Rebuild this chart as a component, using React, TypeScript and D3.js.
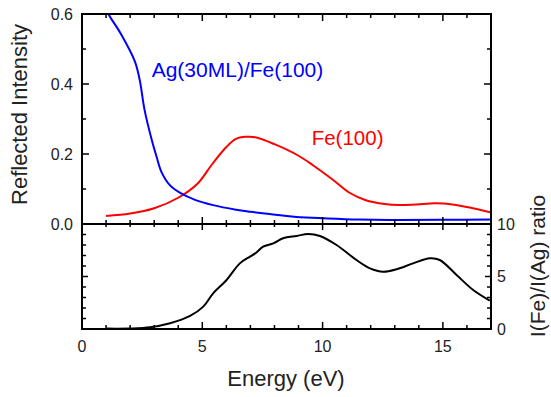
import React from "react";
import * as d3 from "d3";

// Energy (eV) and reflected intensity for Ag(30ML)/Fe(100)
const agEnergy = [1.0, 1.1, 1.6, 2.2, 2.4, 2.6, 2.9, 3.1, 3.3, 3.65, 4.1, 4.7, 5.45, 6.4, 7.0, 7.7, 8.9, 10.2, 11.5, 13.2, 15.0, 17.0];
const agValues = [0.62, 0.6, 0.545, 0.464, 0.411, 0.326, 0.24, 0.192, 0.149, 0.111, 0.088, 0.069, 0.054, 0.041, 0.035, 0.029, 0.02, 0.016, 0.013, 0.0114, 0.012, 0.013];

// Fe(100) reflected intensity
const feEnergy = [1.0, 2.0, 3.0, 4.0, 4.8, 5.4, 6.0, 6.4, 6.8, 7.2, 8.0, 9.0, 9.6, 10.4, 11.1, 11.8, 12.5, 13.2, 13.9, 14.7, 15.4, 16.2, 17.0];
const feValues = [0.023, 0.03, 0.045, 0.075, 0.115, 0.17, 0.22, 0.243, 0.249, 0.248, 0.228, 0.195, 0.168, 0.128, 0.09, 0.068, 0.058, 0.054, 0.056, 0.059, 0.056, 0.046, 0.033];

// Ratio I(Fe)/I(Ag)
const ratioEnergy = [1.0, 2.0, 2.83, 3.66, 4.49, 5.04, 5.45, 6.01, 6.56, 6.98, 7.2, 7.53, 7.95, 8.36, 8.92, 9.4, 9.89, 10.58, 11.41, 11.97, 12.52, 13.07, 13.76, 14.46, 14.87, 15.57, 16.26, 16.95];
const ratioValues = [0.04, 0.05, 0.16, 0.54, 1.24, 2.13, 3.4, 4.67, 6.25, 6.89, 7.2, 7.84, 8.16, 8.64, 8.86, 9.05, 8.86, 8.0, 6.57, 5.78, 5.46, 5.69, 6.25, 6.73, 6.57, 5.14, 3.71, 2.7];

const xTickLabels = [0, 5, 10, 15];
const topTickLabels = [0.0, 0.2, 0.4, 0.6];
const ratioTickLabels = [0, 5, 10];

const FONT = "'Liberation Sans', Arial, Helvetica, sans-serif";

export default function App() {
  const L = 82, R = 491, T = 14, M = 224, B = 329;
  const x = d3.scaleLinear().domain([0, 17]).range([L, R]);
  const yTop = d3.scaleLinear().domain([0, 0.6]).range([M, T]);
  const yBot = d3.scaleLinear().domain([0, 10]).range([B, M]);

  const mk = (xs: number[], ys: number[]) => xs.map((e, i) => [e, ys[i]] as [number, number]);
  const lineTop = d3.line<[number, number]>().x(d => x(d[0])).y(d => yTop(d[1])).curve(d3.curveCatmullRom.alpha(0.5));
  const lineBot = d3.line<[number, number]>().x(d => x(d[0])).y(d => yBot(d[1])).curve(d3.curveCatmullRom.alpha(0.5));

  const minor = 4, major = 7;
  const ticks: JSX.Element[] = [];
  const xt = d3.range(1, 17);
  xt.forEach(v => {
    const len = v % 5 === 0 ? major : minor;
    const px = x(v);
    ticks.push(<line key={"tt" + v} x1={px} x2={px} y1={T} y2={T + len} />);
    ticks.push(<line key={"tm" + v} x1={px} x2={px} y1={M} y2={M - len} />);
    ticks.push(<line key={"bm" + v} x1={px} x2={px} y1={M} y2={M + (v % 5 === 0 ? 6 : 3)} />);
    ticks.push(<line key={"bb" + v} x1={px} x2={px} y1={B} y2={B - len} />);
  });
  d3.range(1, 6).forEach(i => {
    const v = i / 10;
    const len = i % 2 === 0 ? major : minor;
    const py = yTop(v);
    ticks.push(<line key={"lt" + i} x1={L} x2={L + len} y1={py} y2={py} />);
    ticks.push(<line key={"rt" + i} x1={R} x2={R - len} y1={py} y2={py} />);
  });
  d3.range(1, 10).forEach(v => {
    const len = v === 5 ? 6 : minor;
    const py = yBot(v);
    ticks.push(<line key={"lb" + v} x1={L} x2={L + len} y1={py} y2={py} />);
    ticks.push(<line key={"rb" + v} x1={R} x2={R - len} y1={py} y2={py} />);
  });

  return (
    <svg width={551} height={397} style={{ display: "block", position: "absolute", left: 0, top: 0 }} fontFamily={FONT}>
      <defs>
        <clipPath id="topclip">
          <rect x={L} y={T} width={R - L} height={M - T} />
        </clipPath>
      </defs>
      <rect width={551} height={397} fill="#fff" />
      <g clipPath="url(#topclip)" fill="none" strokeWidth={2}>
        <path d={lineTop(mk(feEnergy, feValues)) || ""} stroke="#ff0000" />
        <path d={lineTop(mk(agEnergy, agValues)) || ""} stroke="#0000ff" />
      </g>
      <path d={lineBot(mk(ratioEnergy, ratioValues)) || ""} fill="none" stroke="#000" strokeWidth={2} />
      <g stroke="#000" strokeWidth={2} fill="none">
        <rect x={L} y={T} width={R - L} height={B - T} />
        <line x1={L} x2={R} y1={M} y2={M} />
      </g>
      <g stroke="#000" strokeWidth={1.5}>{ticks}</g>
      <g fontSize={16} fill="#222">
        {xTickLabels.map(v => (
          <text key={"xl" + v} x={x(v)} y={351.5} textAnchor="middle">{v}</text>
        ))}
        {topTickLabels.map(v => (
          <text key={"yl" + v} x={73} y={yTop(v) + 5.5} textAnchor="end">{v.toFixed(1)}</text>
        ))}
        {ratioTickLabels.map(v => (
          <text key={"rl" + v} x={497} y={yBot(v) + 5.5} textAnchor="start">{v}</text>
        ))}
      </g>
      <g fill="#222" fontSize={22}>
        <text x={286} y={386} textAnchor="middle">Energy (eV)</text>
        <text transform="translate(27,114.5) rotate(-90)" textAnchor="middle">Reflected Intensity</text>
        <text transform="translate(545,266) rotate(-90)" textAnchor="middle" fontSize={21}>I(Fe)/I(Ag) ratio</text>
      </g>
      <text x={151.7} y={77} fontSize={21} fill="#0000ff">Ag(30ML)/Fe(100)</text>
      <text x={311.7} y={145} fontSize={20.5} fill="#ff0000">Fe(100)</text>
    </svg>
  );
}
